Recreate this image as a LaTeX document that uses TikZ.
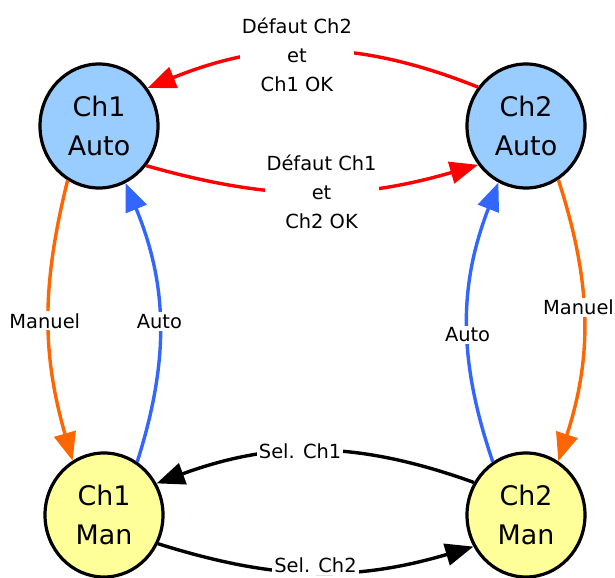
\documentclass[tikz,border=0pt]{standalone}
\usepackage{fontspec}
\setmainfont{DejaVu Sans}
\usetikzlibrary{arrows.meta,shapes.geometric}
\definecolor{autoblue}{HTML}{99CCFF}
\definecolor{manyellow}{HTML}{FFFF99}
\definecolor{lineorange}{HTML}{FF6600}
\definecolor{lineblue}{HTML}{3366FF}
\begin{document}
\begin{tikzpicture}[x=1bp,y=1bp,
  state/.style={ellipse,draw,line width=3.2bp,minimum width=118bp,minimum height=124bp,inner sep=0pt,align=center,font=\fontsize{27}{40}\selectfont},
  trans/.style={line width=3.4bp,-{Triangle[length=28bp,width=22bp]}},
  lab/.style={fill=white,text=black,align=center,font=\fontsize{19.5}{29}\selectfont,inner sep=2bp}]
  \useasboundingbox (0,0) rectangle (615,578);
  \node[state,fill=autoblue] (a1) at (99,452) {Ch1\\Auto};
  \node[state,fill=autoblue] (a2) at (526,452) {Ch2\\Auto};
  \node[state,fill=manyellow] (m1) at (104,63) {Ch1\\Man};
  \node[state,fill=manyellow] (m2) at (526,63) {Ch2\\Man};
  \draw[trans,red] (a2.141) to[bend right=22] node[lab,pos=0.55,yshift=-3bp] {Défaut Ch2\\et\\Ch1 OK} (a1.38);
  \draw[trans,red] (a1.-40) to[bend right=16] node[lab,pos=0.53] {Défaut Ch1\\et\\Ch2 OK} (a2.-141);
  \draw[trans,lineorange] (a1.-120) to[bend right=15] node[lab,xshift=-4bp] {Manuel} (m1.120);
  \draw[trans,lineblue] (m1.58) to[bend right=20] node[lab] {Auto} (a1.-65);
  \draw[trans,lineblue] (m2.122) to[bend left=20] node[lab,pos=0.45] {Auto} (a2.-116);
  \draw[trans,lineorange] (a2.-59) to[bend left=18] node[lab,pos=0.45,xshift=-5bp] {Manuel} (m2.59);
  \draw[trans] (m2.148) to[bend right=20] node[lab,pos=0.55] {Sel. Ch1} (m1.31);
  \draw[trans] (m1.-28) to[bend right=17] node[lab,yshift=7bp] {Sel. Ch2} (m2.-149);
\end{tikzpicture}
\end{document}
